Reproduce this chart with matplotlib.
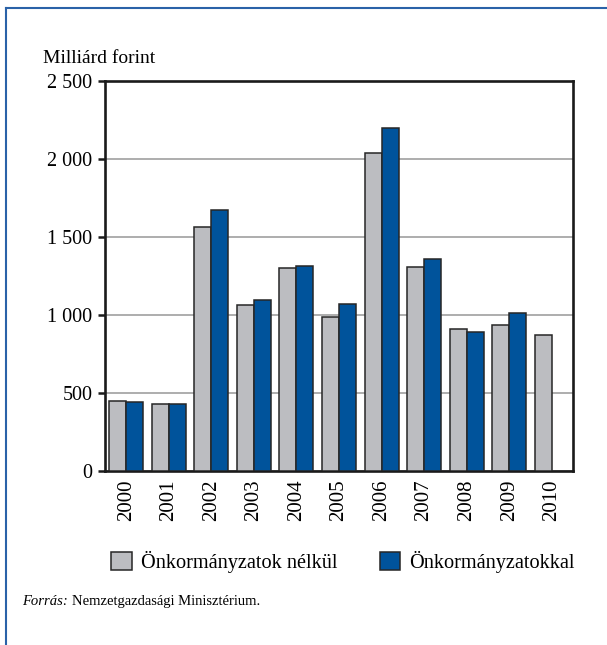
import matplotlib.pyplot as plt
import numpy as np
from matplotlib.patches import Patch
from matplotlib.lines import Line2D
from matplotlib.ticker import FuncFormatter

plt.rcParams['font.family'] = ['Liberation Serif', 'DejaVu Serif']

years = ['2000', '2001', '2002', '2003', '2004', '2005',
         '2006', '2007', '2008', '2009', '2010']
nelkul = [450, 432, 1566, 1064, 1304, 986, 2040, 1310, 908, 933, 872]
onkorm = [442, 432, 1673, 1094, 1316, 1068, 2197, 1361, 893, 1015, np.nan]

gray = '#bcbdc1'
blue = '#00539b'
edge = '#262626'

fig = plt.figure(figsize=(6.07, 6.45), dpi=100)
ax = fig.add_axes([0.173, 0.2698, 0.771, 0.6046])

x = np.arange(len(years))
w = 0.4
ax.bar(x - w / 2, nelkul, w, color=gray, edgecolor=edge, linewidth=1.1, zorder=3)
ax.bar(x + w / 2, onkorm, w, color=blue, edgecolor=edge, linewidth=1.1, zorder=3)

ax.set_xlim(-0.5, 10.5)
ax.set_ylim(0, 2500)
ax.set_yticks(np.arange(0, 2501, 500))
ax.yaxis.set_major_formatter(FuncFormatter(lambda v, p: f'{int(v):,}'.replace(',', ' ')))
ax.grid(axis='y', color='#a0a0a0', linewidth=1.2, zorder=0)
ax.set_axisbelow(True)

ax.set_xticks(x)
ax.set_xticklabels(years, rotation=90, fontsize=15)
ax.tick_params(axis='x', length=0, pad=6)
ax.tick_params(axis='y', direction='out', length=5, width=1.8, labelsize=14.5,
               pad=4, color='#1a1a1a')
for s in ax.spines.values():
    s.set_linewidth(1.9)
    s.set_color('#1a1a1a')

fig.text(0.071, 0.91, 'Milliárd forint', fontsize=14, va='center', ha='left')

handles = [Patch(facecolor=gray, edgecolor=edge, linewidth=1.1),
           Patch(facecolor=blue, edgecolor=edge, linewidth=1.1)]
fig.legend(handles, ['Önkormányzatok nélkül', 'Önkormányzatokkal'],
           loc='center', bbox_to_anchor=(0.565, 0.129), ncol=2, frameon=False,
           fontsize=14.6, handlelength=1.0, handleheight=1.0, handletextpad=0.45,
           columnspacing=2.1)

# source line: italic label followed by the plain text
src = fig.text(0.036, 0.068, 'Forrás:', fontsize=10.5, style='italic', va='center')
ax.annotate('Nemzetgazdasági Minisztérium.', xy=(1, 0.5), xycoords=src,
            xytext=(3, 0), textcoords='offset points', fontsize=10.5,
            va='center', ha='left', annotation_clip=False)

# blue frame along the top and left edges
frame = '#2a62a8'
fig.add_artist(Line2D([6 / 607, 1], [1 - 8 / 645, 1 - 8 / 645], color=frame,
                      linewidth=1.5, transform=fig.transFigure))
fig.add_artist(Line2D([6 / 607, 6 / 607], [0, 1 - 8 / 645], color=frame,
                      linewidth=1.5, transform=fig.transFigure))

fig.savefig('out.png', dpi=100)
